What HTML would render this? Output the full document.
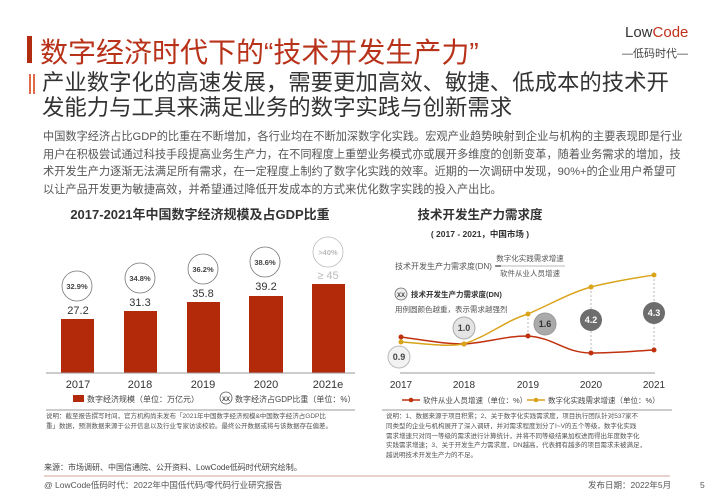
<!DOCTYPE html><html><head><meta charset="utf-8"><style>
body{margin:0;width:710px;height:491px;background:#fff;font-family:"Liberation Sans","Noto Sans CJK SC",sans-serif;position:relative;overflow:hidden}
.a{position:absolute;white-space:nowrap}
</style></head><body>
<div class="a" style="left:27px;top:36px;width:5px;height:27px;background:#b22c10"></div>
<div class="a" style="left:40px;top:31px;font-size:28px;color:#b8321a">数字经济时代下的“技术开发生产力”</div>
<div class="a" style="left:625px;top:24px;font-size:15px;color:#333">Low<span style="color:#c0301a">Code</span></div>
<div class="a" style="left:622px;top:45px;font-size:11px;color:#444">—低码时代—</div>
<div class="a" style="left:29px;top:74px;width:2px;height:20px;background:#e06a4a"></div>
<div class="a" style="left:33px;top:74px;width:2px;height:20px;background:#e06a4a"></div>
<div class="a" style="left:42px;top:70px;font-size:22.4px;line-height:25px;color:#333">产业数字化的高速发展，需要更加高效、敏捷、低成本的技术开<br>发能力与工具来满足业务的数字实践与创新需求</div>
<div class="a" style="left:43px;top:129px;font-size:11.2px;line-height:17.5px;color:#555">中国数字经济占比GDP的比重在不断增加，各行业均在不断加深数字化实践。宏观产业趋势映射到企业与机构的主要表现即是行业<br>用户在积极尝试通过科技手段提高业务生产力，在不同程度上重塑业务模式亦或展开多维度的创新变革，随着业务需求的增加，技<br>术开发生产力逐渐无法满足所有需求，在一定程度上制约了数字化实践的效率。近期的一次调研中发现，90%+的企业用户希望可<br>以让产品开发更为敏捷高效，并希望通过降低开发成本的方式来优化数字实践的投入产出比。</div>
<svg class="a" style="left:0;top:0" width="710" height="491" font-family="Liberation Sans, Noto Sans CJK SC, sans-serif">
<text x="200" y="219" text-anchor="middle" font-size="13" font-weight="bold" fill="#333">2017-2021年中国数字经济规模及占GDP比重</text>
<g fill="#b22a0a">
<rect x="61" y="319" width="33" height="54"/><rect x="124" y="311" width="33" height="62"/><rect x="187" y="302" width="33" height="71"/><rect x="249" y="296" width="34" height="77"/><rect x="312" y="284" width="33" height="89"/></g>
<line x1="46" y1="373" x2="355" y2="373" stroke="#999"/>
<g font-size="11" fill="#333" text-anchor="middle">
<text x="78" y="314">27.2</text><text x="140" y="306">31.3</text><text x="203" y="297">35.8</text><text x="266" y="290">39.2</text><text x="328" y="279" fill="#bbb">≥ 45</text>
<text x="78" y="388">2017</text><text x="140" y="388">2018</text><text x="203" y="388">2019</text><text x="266" y="388">2020</text><text x="328" y="388">2021e</text></g>
<g fill="none" stroke="#777" stroke-width="0.8"><circle cx="77" cy="286" r="15"/><circle cx="140" cy="278" r="15"/><circle cx="203" cy="269" r="15"/><circle cx="265" cy="262" r="15"/><circle cx="328" cy="252" r="15" stroke="#bbb"/></g>
<g font-size="7.5" font-weight="bold" fill="#444" text-anchor="middle"><text x="77" y="289">32.9%</text><text x="140" y="281">34.8%</text><text x="203" y="272">36.2%</text><text x="265" y="265">38.6%</text><text x="328" y="255" fill="#bbb">&gt;40%</text></g>
<rect x="73" y="395" width="11" height="7" fill="#b22a0a"/>
<text x="87" y="402" font-size="8" fill="#444">数字经济规模（单位：万亿元）</text>
<circle cx="226" cy="398" r="6" fill="none" stroke="#555" stroke-width="0.8"/><text x="226" y="401" font-size="6" text-anchor="middle" font-weight="bold" fill="#444">XX</text>
<text x="235" y="402" font-size="8" fill="#444">数字经济占GDP比重（单位：%）</text>
<line x1="46" y1="410" x2="355" y2="410" stroke="#999"/>
<text x="480" y="219" text-anchor="middle" font-size="12.5" font-weight="bold" fill="#333">技术开发生产力需求度</text>
<text x="480" y="237" text-anchor="middle" font-size="8.5" font-weight="bold" fill="#333">( 2017 - 2021，中国市场 )</text>
<text x="395" y="269" font-size="8" fill="#555">技术开发生产力需求度(DN) ＝</text>
<line x1="495" y1="266" x2="565" y2="266" stroke="#777" stroke-width="0.6"/>
<text x="530" y="261" font-size="7.5" text-anchor="middle" fill="#555">数字化实践需求增速</text>
<text x="530" y="276" font-size="7.5" text-anchor="middle" fill="#555">软件从业人员增速</text>
<circle cx="401" cy="294" r="6" fill="#eee" stroke="#666" stroke-width="0.8"/><text x="401" y="297" font-size="6" text-anchor="middle" font-weight="bold" fill="#444">XX</text>
<text x="411" y="297" font-size="7.5" font-weight="bold" fill="#333">技术开发生产力需求度(DN)</text>
<text x="395" y="312" font-size="7.5" fill="#555">用例圆颜色越重，表示需求越强烈</text>
<g stroke="#999" stroke-width="0.7" stroke-dasharray="2,2"><line x1="528" y1="314" x2="528" y2="336"/><line x1="591" y1="287" x2="591" y2="353"/><line x1="654" y1="275" x2="654" y2="350"/></g>
<path d="M401,337 C430,341 445,344 464,344 C490,342 505,336 528,336 C555,338 565,353 591,353 C615,353 635,351 654,350" fill="none" stroke="#c0310e" stroke-width="1.5"/>
<path d="M401,342 C430,344 445,347 464,344 C490,335 505,321 528,314 C555,302 570,293 591,287 C615,281 635,278 654,275" fill="none" stroke="#d9a31a" stroke-width="1.5"/>
<g fill="#c0310e"><circle cx="401" cy="337" r="2.5"/><circle cx="464" cy="344" r="2.5"/><circle cx="528" cy="336" r="2.5"/><circle cx="591" cy="353" r="2.5"/><circle cx="654" cy="350" r="2.5"/></g>
<g fill="#d9a31a"><circle cx="401" cy="342" r="2.5"/><circle cx="464" cy="344" r="2.5"/><circle cx="528" cy="314" r="2.5"/><circle cx="591" cy="287" r="2.5"/><circle cx="654" cy="275" r="2.5"/></g>
<circle cx="399" cy="357" r="11" fill="#f2f2f2" stroke="#bbb"/><circle cx="464" cy="328" r="11" fill="#e4e4e4" stroke="#aaa"/><circle cx="545" cy="324" r="11" fill="#aaa" stroke="#999"/><circle cx="591" cy="320" r="11" fill="#6d6d6d"/><circle cx="654" cy="313" r="11" fill="#6d6d6d"/>
<g font-size="9" font-weight="bold" text-anchor="middle"><text x="399" y="360" fill="#444">0.9</text><text x="464" y="331" fill="#444">1.0</text><text x="545" y="327" fill="#333">1.6</text><text x="591" y="323" fill="#fff">4.2</text><text x="654" y="316" fill="#fff">4.3</text></g>
<line x1="400" y1="373" x2="655" y2="373" stroke="#999"/>
<g font-size="10" fill="#333" text-anchor="middle"><text x="401" y="388">2017</text><text x="464" y="388">2018</text><text x="528" y="388">2019</text><text x="591" y="388">2020</text><text x="654" y="388">2021</text></g>
<line x1="402" y1="400" x2="420" y2="400" stroke="#c0310e" stroke-width="1.5"/><circle cx="411" cy="400" r="2.3" fill="#c0310e"/>
<text x="423" y="403" font-size="7.5" fill="#444">软件从业人员增速（单位：%）</text>
<line x1="527" y1="400" x2="545" y2="400" stroke="#d9a31a" stroke-width="1.5"/><circle cx="536" cy="400" r="2.3" fill="#d9a31a"/>
<text x="548" y="403" font-size="7.5" fill="#444">数字化实践需求增速（单位：%）</text>
<line x1="382" y1="410" x2="672" y2="410" stroke="#999"/>
<line x1="44" y1="476" x2="670" y2="476" stroke="#e2c4bd" stroke-width="1.5"/>
</svg>
<div class="a" style="left:46px;top:412px;font-size:6.5px;line-height:10px;color:#555">说明：截至报告撰写时间，官方机构尚未发布「2021年中国数字经济规模&amp;中国数字经济占GDP比<br>重」数据，预测数据来源于公开信息以及行业专家访谈校验。最终公开数据或将与该数据存在偏差。</div>
<div class="a" style="left:386px;top:412px;font-size:6.5px;line-height:9.8px;color:#555">说明：1、数据来源于项目积累；2、关于数字化实践需求度，项目执行团队针对537家不<br>同类型的企业与机构展开了深入调研，并对需求程度划分了I~V的五个等级，数字化实践<br>需求增速只对同一等级的需求进行计算统计，并将不同等级结果加权进而得出年度数字化<br>实践需求增速；3、关于开发生产力需求度，DN越高，代表拥有越多的项目需求未被满足，<br>越说明技术开发生产力的不足。</div>
<div class="a" style="left:44px;top:462px;font-size:8px;color:#444">来源：市场调研、中国信通院、公开资料、LowCode低码时代研究绘制。</div>
<div class="a" style="left:44px;top:479px;font-size:8.5px;color:#555">@ LowCode低码时代：2022年中国低代码/零代码行业研究报告</div>
<div class="a" style="left:588px;top:479px;font-size:8.5px;color:#555">发布日期：2022年5月</div>
<div class="a" style="left:700px;top:480px;font-size:8.5px;color:#555">5</div>
</body></html>
